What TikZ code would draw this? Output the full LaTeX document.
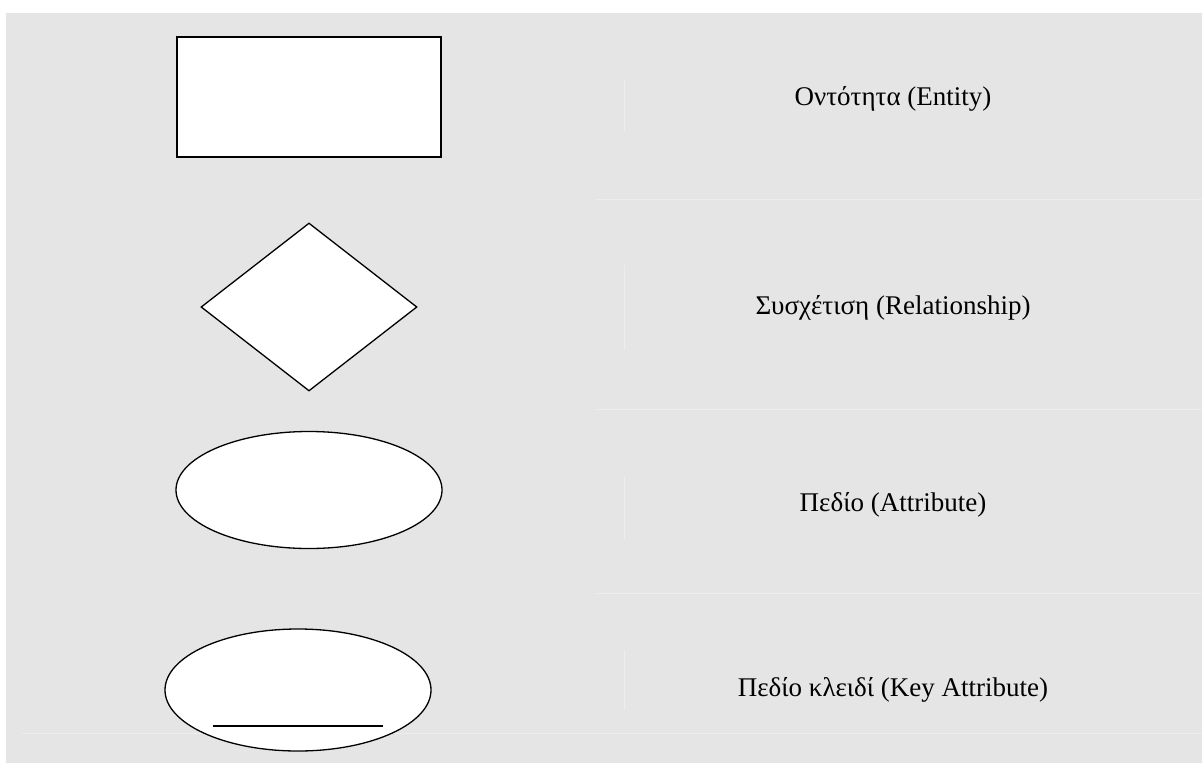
\documentclass[tikz,border=0pt]{standalone}
\usepackage{fontspec}
\setmainfont{Liberation Serif}
\usetikzlibrary{shapes.geometric}
\definecolor{panel}{HTML}{E5E5E5}
\definecolor{rulegray}{HTML}{EDEDED}

\begin{document}
\begin{tikzpicture}[x=1pt,y=-1pt,
  symbox/.style={draw,fill=white,line width=1.3pt,inner sep=0pt},
  legend/.style={font=\fontsize{27}{32}\selectfont,inner sep=0pt}]
\useasboundingbox (0,0) rectangle (1202,763);
\fill[panel] (6,13) rectangle (1202,763);
%% faint table rules
\foreach \y in {199,409,593}
{
  \draw[rulegray,line width=1pt] (596,\y) -- (1202,\y);
}
\draw[rulegray,line width=1pt] (22,733) -- (1202,733);
\foreach \a/\b in {80/132,265/350,476/540,650/710}
{
  \draw[rulegray,line width=1pt] (624,\a) -- (624,\b);
}
%% symbols
\node[symbox,minimum width=264,minimum height=120] (entity) at (309,97) {};
\node[symbox,diamond,minimum width=216,minimum height=168] (relation) at (309,307) {};
\node[symbox,ellipse,minimum width=266,minimum height=117] (attr) at (309,490) {};
\node[symbox,ellipse,minimum width=266,minimum height=122] (keyattr) at (298,690) {};
\draw[line width=1.3pt] (213,726) -- (383,726);
%% names
\node[legend] (entitytxt) at (893,99) {Οντότητα (Entity)};
\node[legend] (relationtxt) at (893,308) {Συσχέτιση (Relationship)};
\node[legend] (attrtxt) at (893,505) {Πεδίο (Attribute)};
\node[legend] (keyattrtxt) at (893,690) {Πεδίο κλειδί (Key Attribute)};
\end{tikzpicture}
\end{document}
